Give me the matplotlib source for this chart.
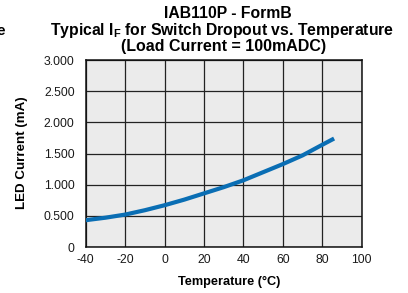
import matplotlib
matplotlib.use("Agg")
import matplotlib.pyplot as plt

plt.rcParams['font.family'] = ['Liberation Sans', 'DejaVu Sans']
plt.rcParams['mathtext.fontset'] = 'custom'
plt.rcParams['mathtext.rm'] = 'Liberation Sans:bold'
plt.rcParams['mathtext.bf'] = 'Liberation Sans:bold'
plt.rcParams['axes.unicode_minus'] = False

temps = [-40, -30, -20, -10, 0, 10, 20, 30, 40, 50, 60, 70, 80, 86]
led_current = [0.43, 0.47, 0.52, 0.59, 0.67, 0.76, 0.86, 0.96, 1.07, 1.20, 1.33, 1.47, 1.64, 1.74]
x_ticks = [-40, -20, 0, 20, 40, 60, 80, 100]
y_ticks = [0, 0.5, 1.0, 1.5, 2.0, 2.5, 3.0]
y_tick_labels = ["0", "0.500", "1.000", "1.500", "2.000", "2.500", "3.000"]

W, H = 408, 293
fig = plt.figure(figsize=(W / 100, H / 100), dpi=100)
ax = fig.add_axes([85.7 / W, 1 - 247 / H, (361.7 - 85.7) / W, (247 - 60) / H])
ax.set_facecolor('#ebebeb')
ax.plot(temps, led_current, color='#0a6eb4', linewidth=3.0, solid_capstyle='butt', zorder=3)
ax.set_xlim(-40, 100)
ax.set_ylim(0, 3.0)
ax.set_xticks(x_ticks)
ax.set_yticks(y_ticks)
ax.set_yticklabels(y_tick_labels)
ax.grid(True, color='#222222', linewidth=0.9)
ax.set_axisbelow(True)
ax.tick_params(length=0, labelsize=8.8, colors='#1a1a1a', pad=5)
ax.tick_params(axis='y', pad=8)
for s in ax.spines.values():
    s.set_color('#111111')
    s.set_linewidth(1.1)

ax.set_xlabel('Temperature (°C)', fontsize=9.2, fontweight='bold')
ax.xaxis.set_label_coords((229 - 85.7) / (361.7 - 85.7), -(282 - 247) / 187)
ax.set_ylabel('LED Current (mA)', fontsize=9.6, fontweight='bold')
ax.yaxis.set_label_coords(-(85.7 - 22.5) / 276, (247 - 153) / 187)
ax.yaxis.label.set_va('center')
ax.xaxis.label.set_va('center')

fig.text(228 / W, 1 - 13 / H, 'IAB110P - FormB', ha='center', va='center', fontsize=11.3, fontweight='bold')
fig.text(222 / W, 1 - 30 / H, r'Typical I$_{\mathrm{F}}$ for Switch Dropout vs. Temperature', ha='center', va='center', fontsize=11.3, fontweight='bold')
fig.text(224 / W, 1 - 47 / H, '(Load Current = 100mADC)', ha='center', va='center', fontsize=11.5, fontweight='bold')
fig.text(4.5 / W, 1 - 31 / H, 'e', ha='right', va='center', fontsize=11, fontweight='bold')

fig.savefig('out.png', dpi=100)
